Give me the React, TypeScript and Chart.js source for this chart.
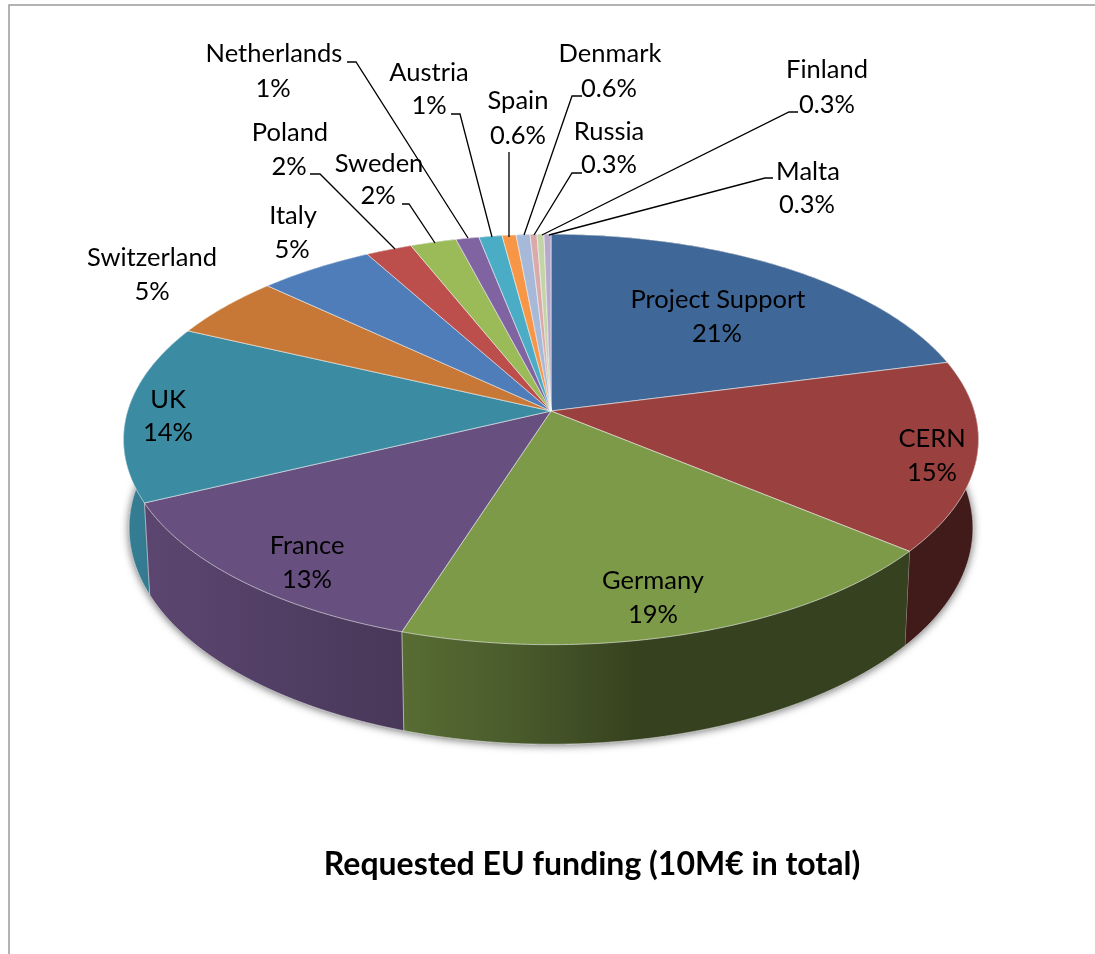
import React, { useEffect, useRef } from "react";
import { Chart, registerables, PieController, ArcElement } from "chart.js";

// Funding shares per partner, clockwise from twelve o'clock.
const partners = [
  "Project Support", "CERN", "Germany", "France", "UK", "Switzerland", "Italy", "Poland",
  "Sweden", "Netherlands", "Austria", "Spain", "Denmark", "Russia", "Finland", "Malta",
];
const shares = [21, 15, 19, 13, 14, 5, 5, 2, 2, 1, 1, 0.6, 0.6, 0.3, 0.3, 0.3];
const sliceColors = [
  "#3f6797", "#9a403e", "#7d9a49", "#674f7f", "#3b8ba3", "#c77836", "#4e7dba", "#bc4f4c",
  "#9bbb59", "#8064a2", "#4bacc6", "#f79646", "#a7b9d9", "#d9aaa9", "#c3d5a7", "#b6a9cb",
];
const chartTitle = "Requested EU funding (10M€ in total)";

// Label anchors: name centre, value centre, and the leader's elbow points (if any).
type Placement = { name: [number, number]; value: [number, number]; leader?: [number, number][]; rim?: [number, number] };
const placements: Placement[] = [
  { name: [718, 300], value: [717, 334] },
  { name: [932, 439], value: [932, 473] },
  { name: [653, 581], value: [653, 615] },
  { name: [307, 546], value: [307, 580] },
  { name: [168, 400], value: [168, 433] },
  { name: [152, 258], value: [152, 292] },
  { name: [293, 216], value: [292, 250] },
  { name: [290, 133], value: [289, 167], leader: [[310, 174], [320, 174]], rim: [395, 249] },
  { name: [379, 164], value: [378, 196], leader: [[402, 204], [409, 204]], rim: [435, 243] },
  { name: [274, 54], value: [273, 89], leader: [[347, 62], [356, 62]], rim: [468, 238] },
  { name: [429, 73], value: [429, 106], leader: [[451, 114], [460, 114]], rim: [492, 237] },
  { name: [518, 101], value: [518, 136], leader: [[509, 152]], rim: [509, 237] },
  { name: [610, 54], value: [609, 89], leader: [[582, 96], [572, 96]], rim: [524, 235] },
  { name: [609, 132], value: [609, 165], leader: [[582, 173], [572, 173]], rim: [534, 235] },
  { name: [827, 70], value: [827, 105], leader: [[798, 112], [789, 112]], rim: [542, 235] },
  { name: [808, 172], value: [807, 205], leader: [[773, 178], [765, 178]], rim: [549, 235] },
];

// Tilted-disc projection, relative to the arc radius the library computes.
const TILT = 0.1387;
const STRETCH_X = 1.0314;
const STRETCH_Y = 0.4903;
const WALL_SCALE_X = 0.987;
const WALL_SCALE_Y = 1.054;
const WALL_DROP = 87;

type Pt = [number, number];
function rimPoint(x: number, y: number, r: number, angle: number): Pt {
  const u = Math.cos(angle);
  const v = Math.sin(angle);
  const w = 1 - TILT * v;
  return [x + (r * STRETCH_X * u) / w, y + (r * STRETCH_Y * v) / w];
}
function wallPoint(x: number, y: number, p: Pt): Pt {
  return [x + (p[0] - x) * WALL_SCALE_X, y + WALL_DROP + (p[1] - y) * WALL_SCALE_Y];
}
function rimSamples(x: number, y: number, r: number, a0: number, a1: number): Pt[] {
  const n = Math.max(2, Math.ceil(Math.abs(a1 - a0) / 0.012));
  const pts: Pt[] = [];
  for (let i = 0; i <= n; i++) pts.push(rimPoint(x, y, r, a0 + ((a1 - a0) * i) / n));
  return pts;
}
function tracePolygon(ctx: CanvasRenderingContext2D, pts: Pt[]) {
  ctx.moveTo(pts[0][0], pts[0][1]);
  for (let i = 1; i < pts.length; i++) ctx.lineTo(pts[i][0], pts[i][1]);
}

// Arc element that draws its top face through the tilted projection.
class TiltedArc extends ArcElement {
  static id = "tiltedArc";
  static defaults = { ...ArcElement.defaults };
  draw(ctx: CanvasRenderingContext2D) {
    const { x, y, startAngle, endAngle, outerRadius } = (this as any).getProps(
      ["x", "y", "startAngle", "endAngle", "outerRadius"]
    );
    const o = (this as any).options;
    const pts = [[x, y] as Pt, ...rimSamples(x, y, outerRadius, startAngle, endAngle)];
    ctx.save();
    ctx.beginPath();
    tracePolygon(ctx, pts);
    ctx.closePath();
    ctx.fillStyle = o.backgroundColor;
    ctx.fill();
    ctx.lineWidth = o.borderWidth;
    ctx.strokeStyle = o.borderColor;
    ctx.lineJoin = "round";
    ctx.stroke();
    ctx.restore();
  }
}

class TiltedPieController extends PieController {
  static id = "tiltedPie";
  static defaults = { dataElementType: "tiltedArc" };
}

Chart.register(...registerables, TiltedArc, TiltedPieController);

function shade(hex: string, f: number) {
  const n = parseInt(hex.slice(1), 16);
  const c = [(n >> 16) & 255, (n >> 8) & 255, n & 255].map((v) => Math.round(v * f));
  return `rgb(${c[0]},${c[1]},${c[2]})`;
}

// Side wall of the disc, lit from the left.
const wallLight: [number, number][] = [
  [0, 0.9], [0.3, 0.72], [0.45, 0.6], [0.6, 0.43], [0.72, 0.42], [1, 0.42],
];

const sideWall = {
  id: "sideWall",
  beforeDatasetsDraw(chart: any) {
    const { ctx } = chart;
    const arcs: any[] = chart.getDatasetMeta(0).data;
    const first = arcs[0].getProps(["x", "y", "outerRadius"]);
    const { x, y, outerRadius: r } = first;

    const rimAll = rimSamples(x, y, r, 0, Math.PI * 2).map((p) => wallPoint(x, y, p));
    ctx.save();
    ctx.shadowColor = "rgba(0,0,0,0.6)";
    ctx.shadowBlur = 8;
    ctx.shadowOffsetY = 1;
    ctx.fillStyle = "#444";
    ctx.beginPath();
    tracePolygon(ctx, rimAll);
    ctx.closePath();
    ctx.fill();
    ctx.restore();

    const left = x - r * STRETCH_X;
    const right = x + r * STRETCH_X;
    const order = arcs
      .map((a, i) => ({ a, i, mid: Math.sin((a.startAngle + a.endAngle) / 2) }))
      .sort((p, q) => p.mid - q.mid);
    for (const { a, i } of order) {
      const top = rimSamples(x, y, r, a.startAngle, a.endAngle);
      const bottom = top.map((p) => wallPoint(x, y, p)).reverse();
      const g = ctx.createLinearGradient(left, 0, right, 0);
      for (const [at, f] of wallLight) g.addColorStop(at, shade(sliceColors[i], f));
      ctx.beginPath();
      tracePolygon(ctx, [...top, ...bottom]);
      ctx.closePath();
      ctx.fillStyle = g;
      ctx.fill();
      ctx.lineWidth = 1;
      ctx.strokeStyle = "rgba(255,255,255,0.55)";
      ctx.beginPath();
      tracePolygon(ctx, [top[top.length - 1], bottom[0]]);
      tracePolygon(ctx, bottom);
      ctx.stroke();
    }
  },
};

const LABEL_FONT = '"Lato", sans-serif';

const annotations = {
  id: "annotations",
  beforeDraw(chart: any) {
    const { ctx } = chart;
    ctx.save();
    ctx.strokeStyle = "#9a9a9a";
    ctx.lineWidth = 1.5;
    ctx.beginPath();
    ctx.moveTo(9, 954);
    ctx.lineTo(9, 5);
    ctx.lineTo(1095, 5);
    ctx.stroke();
    ctx.restore();
  },
  afterDatasetsDraw(chart: any) {
    const { ctx } = chart;
    ctx.save();
    ctx.strokeStyle = "#000";
    ctx.lineWidth = 1.3;
    placements.forEach((p) => {
      if (!p.leader || !p.rim) return;
      ctx.beginPath();
      tracePolygon(ctx, [...p.leader, p.rim]);
      ctx.stroke();
    });
    ctx.fillStyle = "#000";
    ctx.textAlign = "center";
    ctx.textBaseline = "middle";
    ctx.font = `25.5px ${LABEL_FONT}`;
    partners.forEach((name, i) => {
      const p = placements[i];
      ctx.fillText(name, p.name[0], p.name[1]);
      ctx.fillText(`${shares[i]}%`, p.value[0], p.value[1]);
    });
    ctx.font = `bold 32px ${LABEL_FONT}`;
    ctx.fillText(chartTitle, 592, 865);
    ctx.restore();
  },
};

export default function App() {
  const ref = useRef<HTMLCanvasElement>(null);
  useEffect(() => {
    const chart = new Chart(ref.current!, {
      type: "tiltedPie" as any,
      data: {
        labels: partners,
        datasets: [
          {
            data: shares,
            backgroundColor: sliceColors,
            borderColor: "rgba(255,255,255,0.55)",
            borderWidth: 1,
          },
        ],
      },
      options: {
        animation: false,
        responsive: false,
        layout: { padding: { left: 7, right: 0, top: 0, bottom: 132 } },
        plugins: { legend: { display: false }, tooltip: { enabled: false }, title: { display: false } },
      },
      plugins: [sideWall, annotations],
    } as any);
    return () => chart.destroy();
  }, []);
  return (
    <canvas
      ref={ref}
      width={1095}
      height={954}
      style={{ position: "absolute", left: 0, top: 0, width: 1095, height: 954, background: "#fff" }}
    />
  );
}
